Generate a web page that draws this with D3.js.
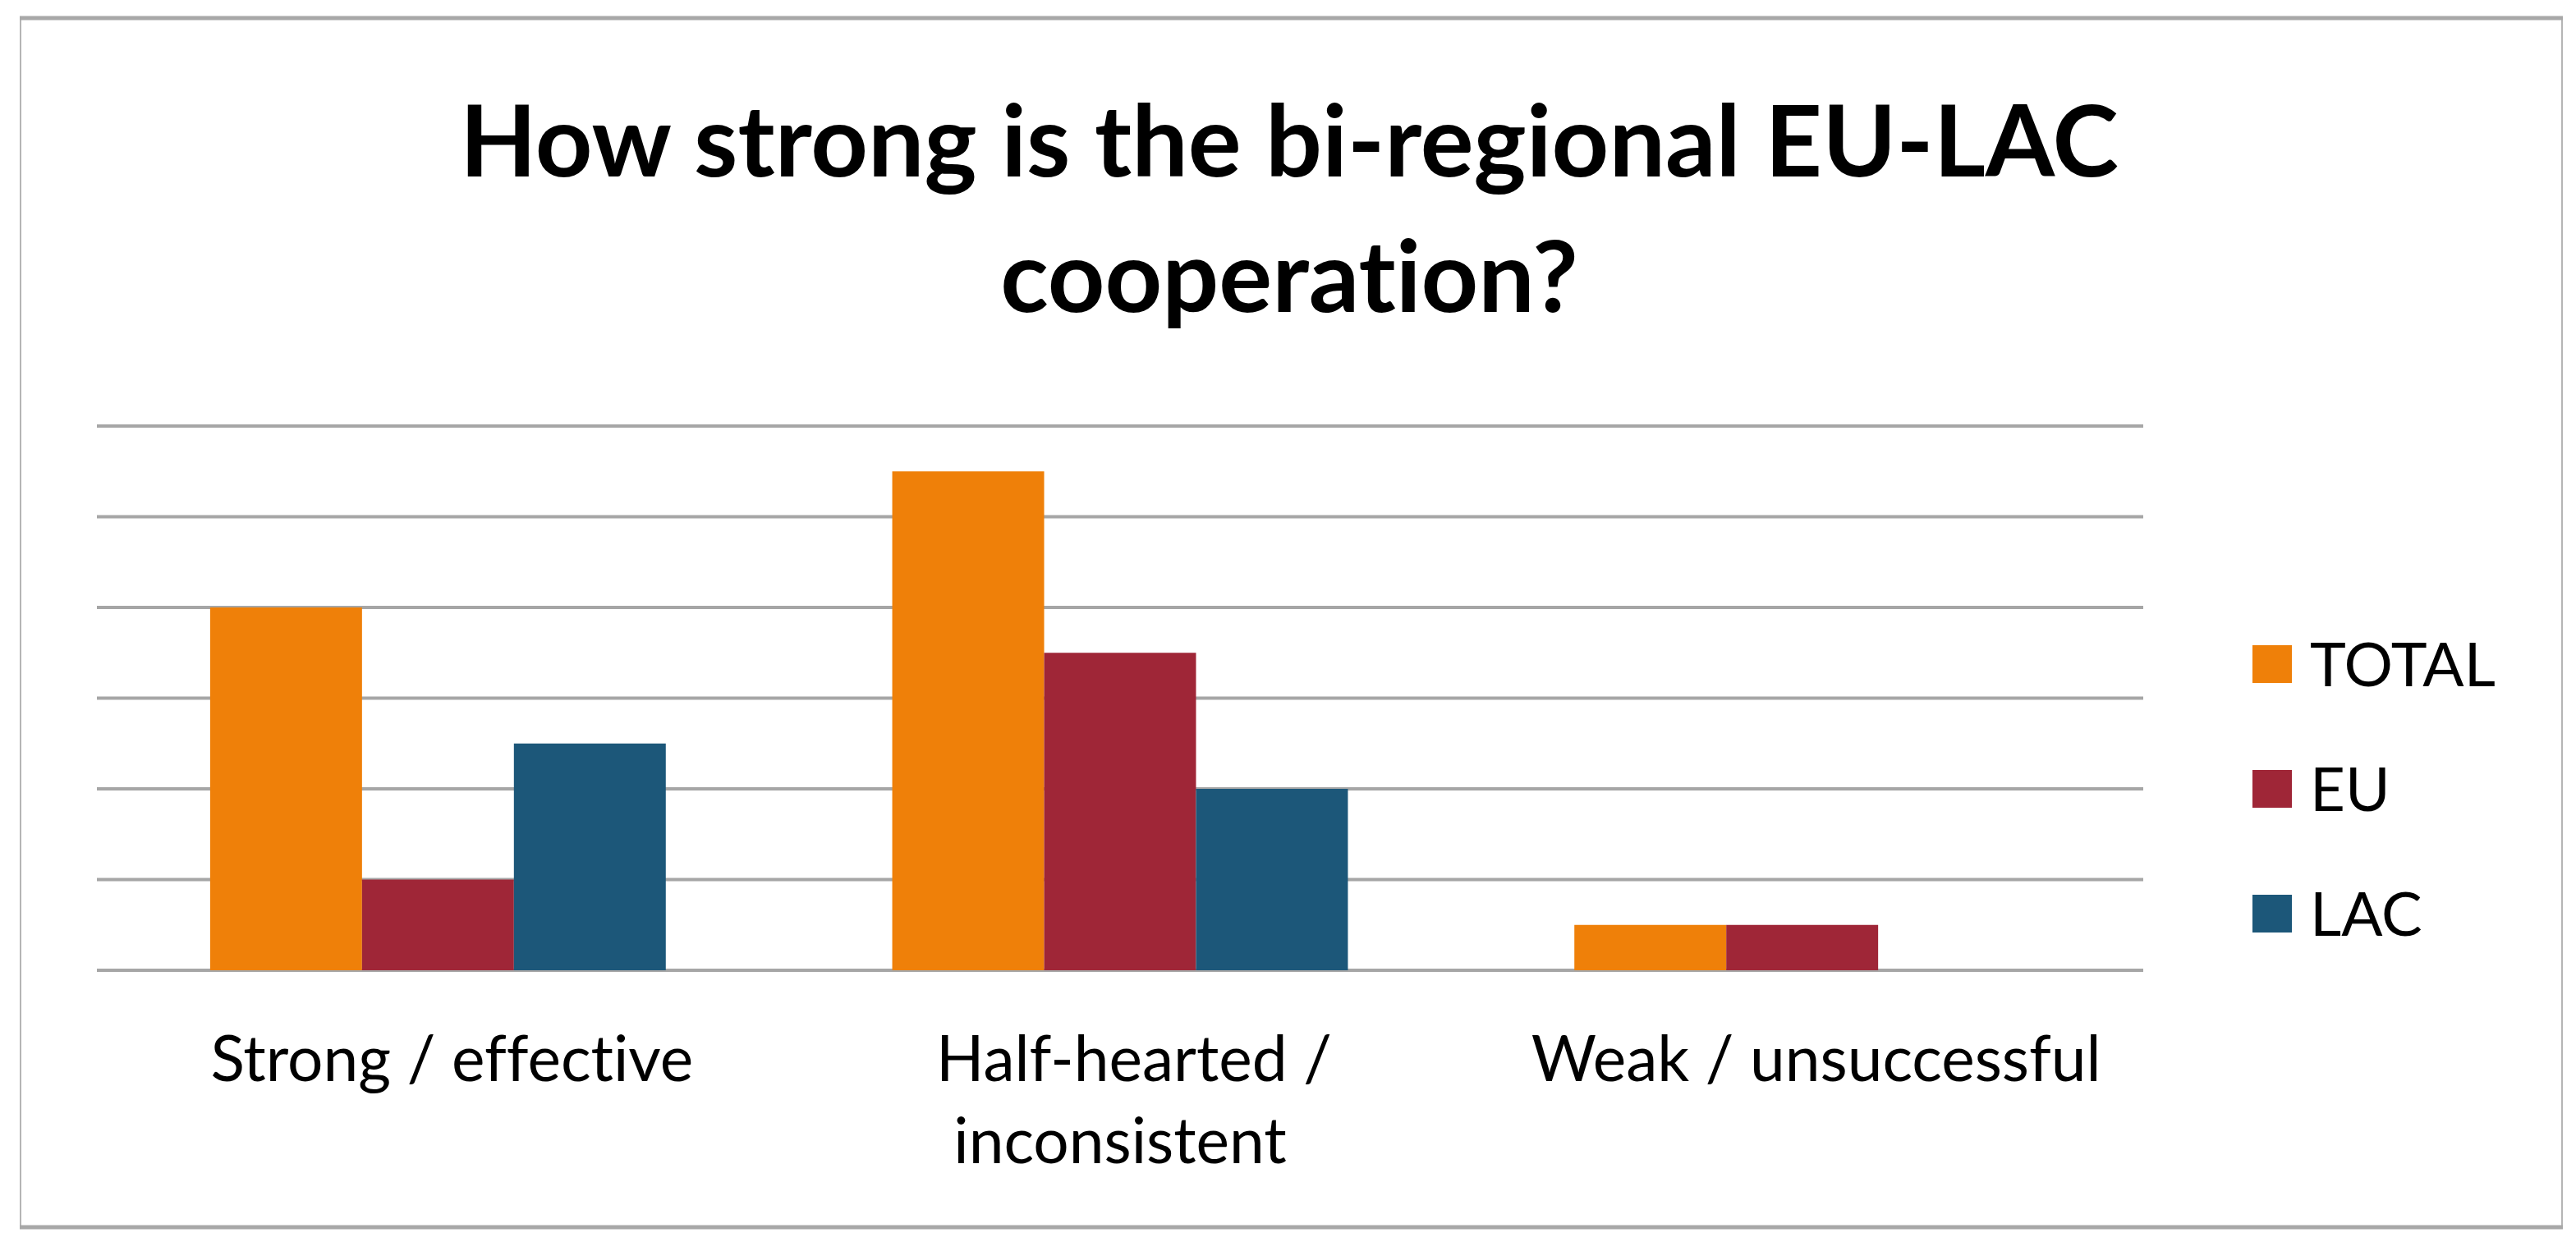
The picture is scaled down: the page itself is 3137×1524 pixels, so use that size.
<!DOCTYPE html>
<html><head><meta charset="utf-8">
<script src="https://cdn.jsdelivr.net/npm/d3@7"></script>
<style>
html,body{margin:0;padding:0;background:#fff;}
svg{display:block;}
text{font-family:Lato,"Open Sans",sans-serif;fill:#000;font-variant-ligatures:none;font-feature-settings:"liga" 0,"clig" 0;}
</style></head>
<body>
<svg id="chart" width="3137" height="1524"></svg>
<script>
const titleLines = ["How strong is the bi-regional EU-LAC", "cooperation?"];
const categories = ["Strong / effective", "Half-hearted / inconsistent", "Weak / unsuccessful"];
const categoryLines = [["Strong / effective"], ["Half-hearted /", "inconsistent"], ["Weak / unsuccessful"]];
const seriesNames = ["TOTAL", "EU", "LAC"];
const seriesColors = ["#ef8009", "#9f2637", "#1c5779"];
const totalValues = [4, 5.5, 0.5];
const euValues = [1, 3.5, 0.5];
const lacValues = [2.5, 2, 0];
const gridTicks = [0, 1, 2, 3, 4, 5, 6];

const values = [totalValues, euValues, lacValues];
const svg = d3.select("#chart");

// frame
svg.append("rect").attr("x", 25).attr("y", 21).attr("width", 3095).attr("height", 1475)
  .attr("fill", "#fff").attr("stroke", "#b5b5b5").attr("stroke-width", 2);
svg.append("line").attr("x1", 24).attr("x2", 3121).attr("y1", 22).attr("y2", 22)
  .attr("stroke", "#a8a8a8").attr("stroke-width", 5);
svg.append("line").attr("x1", 24).attr("x2", 3121).attr("y1", 1495).attr("y2", 1495)
  .attr("stroke", "#a8a8a8").attr("stroke-width", 5);

const plot = {left: 118, right: 2610, top: 519, bottom: 1182};
const x0 = d3.scaleBand().domain(categories).range([plot.left, plot.right])
  .paddingInner(0.332).paddingOuter(0.166);
const x1 = d3.scaleBand().domain(seriesNames).range([0, x0.bandwidth()]).padding(0);
const y = d3.scaleLinear().domain([0, 6]).range([plot.bottom, plot.top]);

// gridlines
svg.append("g").selectAll("line").data(gridTicks).join("line")
  .attr("x1", plot.left).attr("x2", plot.right)
  .attr("y1", d => y(d)).attr("y2", d => y(d))
  .attr("stroke", "#a6a6a6").attr("stroke-width", 4);

// bars
const rows = categories.map((c, i) => ({cat: c, vals: seriesNames.map((s, j) => ({s, j, v: values[j][i]}))}));
const groups = svg.append("g").selectAll("g").data(rows).join("g")
  .attr("transform", d => `translate(${x0(d.cat)},0)`);
groups.selectAll("rect").data(d => d.vals.filter(e => e.v > 0)).join("rect")
  .attr("x", d => x1(d.s)).attr("width", x1.bandwidth())
  .attr("y", d => y(d.v)).attr("height", d => y(0) - y(d.v))
  .attr("fill", d => seriesColors[d.j]);

// title
const title = svg.append("g").selectAll("text").data(titleLines).join("text")
  .attr("x", 1570).attr("y", (d, i) => 215 + i * 165)
  .attr("text-anchor", "middle").attr("font-weight", 700)
  .attr("font-size", 120).text(d => d);
{
  const n = title.nodes()[0];
  const w = n.getComputedTextLength();
  const fs = 120 * 2020 / w;
  title.attr("font-size", fs);
}

// category labels
let labelFs = 78;
const lab = svg.append("g").selectAll("text").data(categories).join("text")
  .attr("x", d => x0(d) + x0.bandwidth() / 2)
  .attr("y", 1317).attr("text-anchor", "middle").attr("font-size", labelFs);
lab.selectAll("tspan").data((d, i) => categoryLines[i]).join("tspan")
  .attr("x", function(d, i) { return +d3.select(this.parentNode).attr("x") + (i === 0 ? 17 : 0); })
  .attr("dy", (d, i) => i === 0 ? 0 : 100).text(d => d);
{
  const n = lab.nodes()[0];
  const w = n.getComputedTextLength();
  labelFs = labelFs * 588 / w;
  lab.attr("font-size", labelFs);
}

// legend
const leg = svg.append("g").selectAll("g").data(seriesNames).join("g")
  .attr("transform", (d, i) => `translate(2743, ${809 + i * 152})`);
leg.append("rect").attr("x", 0).attr("y", -23).attr("width", 48).attr("height", 46)
  .attr("fill", (d, i) => seriesColors[i]);
leg.append("text").attr("x", 70).attr("y", 0).attr("dy", "0.36em")
  .attr("font-size", labelFs * 0.97).text(d => d);
</script>
</body></html>
